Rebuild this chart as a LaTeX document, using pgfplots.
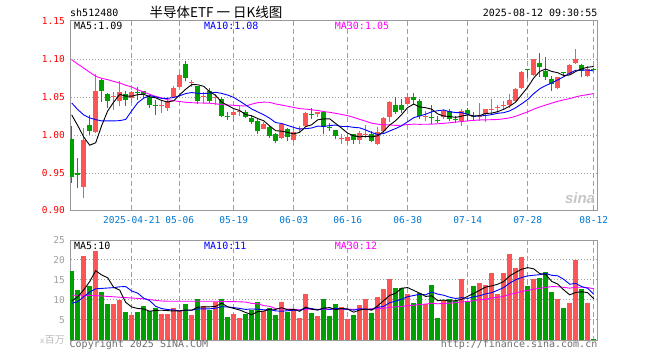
\documentclass[border=0pt]{standalone}
\usepackage{pgfplots}
\pgfplotsset{compat=1.18}
\usepackage{pgfplotstable}
\usepackage{fontspec}
\newfontfamily\monofont{DejaVu Sans Mono}
\newfontfamily\cjk{Noto Sans CJK SC}
\newfontfamily\sinafont{Liberation Sans}
\definecolor{cred}{RGB}{255,84,84}
\definecolor{cgreen}{RGB}{0,160,0}
\definecolor{cmag}{RGB}{255,0,255}
\definecolor{cblue}{RGB}{0,0,255}
\definecolor{ctickred}{RGB}{255,0,0}
\definecolor{cdate}{RGB}{0,120,210}
\definecolor{cframe}{RGB}{153,153,153}
\definecolor{cgridc}{RGB}{160,160,160}
\definecolor{cvgray}{RGB}{160,160,160}
\definecolor{ctext}{RGB}{110,110,110}

\pgfplotstableread{
k o h l c v u
0 0.9947 1.011 0.936 0.944 17.3 0
1 0.950 0.969 0.930 0.947 12.5 0
2 0.931 1.009 0.917 0.993 21 1
3 1.013 1.026 0.999 1.005 13.5 0
4 1.003 1.080 1.002 1.057 22.3 1
5 1.0715 1.0737 1.0425 1.057 12 0
6 1.054 1.055 1.035 1.044 9 0
7 1.0495 1.056 1.032 1.0505 9 1
8 1.0439 1.070 1.0373 1.0566 10.1 1
9 1.054 1.057 1.037 1.0452 7 0
10 1.0482 1.0579 1.0417 1.0566 6.25 1
11 1.0556 1.0627 1.046 1.0542 7 0
12 1.057 1.058 1.048 1.0535 8.5 0
13 1.0496 1.0526 1.035 1.0395 7.25 0
14 1.0395 1.045 1.0254 1.0382 8 0
15 1.037 1.044 1.0285 1.039 6.5 1
16 1.035 1.049 1.0307 1.0447 6.5 1
17 1.0496 1.0636 1.0482 1.0614 8 1
18 1.0627 1.0798 1.0614 1.079 7.5 1
19 1.0934 1.0974 1.0702 1.0746 9 0
20 1.0685 1.0724 1.0627 1.0695 6.25 1
21 1.0636 1.0645 1.0404 1.0439 10.25 0
22 1.0500 1.0561 1.0417 1.0510 8.5 1
23 1.0579 1.0614 1.0417 1.0439 7.5 0
24 1.0487 1.0535 1.0395 1.0496 9.5 1
25 1.0469 1.049 1.0228 1.025 10.25 0
26 1.0240 1.0298 1.0197 1.0230 5.75 0
27 1.0254 1.0316 1.0162 1.0294 6.5 1
28 1.0305 1.0373 1.0241 1.0316 5.5 1
29 1.0303 1.0329 1.0219 1.0228 6.4 0
30 1.0224 1.0254 1.0145 1.0171 7.5 0
31 1.018 1.0202 1.0013 1.0048 9.5 0
32 1.0079 1.0171 1.007 1.0145 7.2 1
33 1.0101 1.0114 0.9961 0.9978 7.9 0
34 1.0004 1.0026 0.9895 0.9917 6.25 0
35 0.9961 1.0145 0.9947 1.0136 9.5 1
36 1.007 1.0092 0.9917 0.9969 6.9 0
37 0.9925 1.0083 0.9908 1.0039 7.75 1
38 1.0070 1.0118 1.0040 1.0088 5.5 1
39 1.0114 1.0298 1.010 1.0289 11.5 1
40 1.0272 1.0346 1.0202 1.0262 6.75 0
41 1.0276 1.0303 1.0232 1.0294 6 1
42 1.0294 1.0303 1.0004 1.0101 10.25 0
43 1.0101 1.0158 1.0048 1.0092 6 0
44 1.0057 1.0066 0.9939 0.9983 9 0
45 0.9939 1.0004 0.9882 0.9949 8.25 1
46 0.9917 1.0004 0.9873 0.9969 5.25 1
47 1.0004 1.0013 0.9882 0.9925 6.25 0
48 0.9925 1.0048 0.9873 1.0026 8.75 1
49 1.0000 1.0127 0.9961 1.0013 10.25 1
50 1.0013 1.0048 0.9908 0.9917 6.75 0
51 0.9882 1.0101 0.9864 1.0039 10.75 1
52 1.0048 1.0232 1.0026 1.0224 12.75 1
53 1.0232 1.0443 1.0171 1.0434 15.25 1
54 1.039 1.05 1.0276 1.0303 13 0
55 1.0386 1.0465 1.0289 1.032 13 0
56 1.0408 1.0553 1.0399 1.05 11.5 1
57 1.05 1.0553 1.039 1.0452 9.25 0
58 1.0443 1.0465 1.0202 1.0246 11.75 0
59 1.0241 1.0311 1.018 1.0251 9 1
60 1.0237 1.0386 1.0145 1.0227 13.75 0
61 1.0198 1.0246 1.0158 1.0188 5.5 0
62 1.0237 1.0333 1.0202 1.0311 10 1
63 1.0311 1.0342 1.018 1.0211 10.25 0
64 1.0206 1.0246 1.0158 1.0197 9.75 0
65 1.018 1.0333 1.0114 1.0311 15.25 1
66 1.0325 1.0355 1.018 1.0268 9.4 0
67 1.0241 1.0298 1.018 1.0232 13.5 0
68 1.0237 1.0421 1.018 1.0247 14.25 1
69 1.0268 1.0342 1.0167 1.0333 13.75 1
70 1.0324 1.0474 1.0268 1.0334 16.75 1
71 1.0355 1.0386 1.0289 1.0365 11.5 1
72 1.0377 1.0443 1.0342 1.0387 16.75 1
73 1.0386 1.0531 1.0355 1.0452 21.5 1
74 1.0443 1.0618 1.043 1.0605 18 1
75 1.0618 1.0838 1.0605 1.0829 20.75 1
76 1.086 1.0868 1.075 1.0845 13.5 0
77 1.0785 1.10 1.0772 1.0991 15.25 1
78 1.0947 1.107 1.0763 1.089 15.5 0
79 1.0838 1.1026 1.0719 1.0763 17 0
80 1.0737 1.0772 1.0575 1.0671 12 0
81 1.061 1.076 1.0596 1.076 10.25 1
82 1.082 1.0825 1.0775 1.081 8 0
83 1.080 1.093 1.079 1.092 9.25 1
84 1.0944 1.1132 1.093 1.0996 20 1
85 1.0921 1.0934 1.0759 1.0842 12.75 0
86 1.0767 1.0908 1.076 1.0868 9.25 1
87 1.0868 1.0875 1.0855 1.0858 0.25 0
}\kd

% moving averages computed from the table (leading parts)
\newcommand\appendma[4]{%
  \pgfmathtruncatemacro\mastart{#3-1}%
  \foreach \i in {\mastart,...,87}{%
    \gdef\masum{0}%
    \pgfmathtruncatemacro\jlo{\i-#3+1}%
    \foreach \j in {\jlo,...,\i}{%
      \pgfplotstablegetelem{\j}{#2}\of#4%
      \pgfmathparse{\masum+\pgfplotsretval}%
      \xdef\masum{\pgfmathresult}%
    }%
    \pgfmathparse{\masum/#3}%
    \xdef#1{#1 (\i,\pgfmathresult)}%
  }%
}
\gdef\maPfive{(0,1.026) (1,1.012) (2,0.997) (3,0.986)}
\gdef\maPten{(0,1.0417) (1,1.033) (2,1.026) (3,1.022) (4,1.0197) (5,1.018) (6,1.018) (7,1.018) (8,1.0184)}
\gdef\maPthirty{(0,1.0987) (1,1.093) (2,1.0877) (3,1.082) (4,1.0768) (5,1.074) (6,1.0724) (7,1.070) (8,1.068) (9,1.065) (10,1.0627) (11,1.059) (12,1.0561) (13,1.053) (14,1.0504) (15,1.0482) (16,1.046) (17,1.0447) (18,1.0435) (19,1.0426) (20,1.042) (21,1.0417) (22,1.0415) (23,1.0413) (24,1.0405) (25,1.0395) (26,1.039) (27,1.0386) (28,1.038)}
\gdef\maVfive{(0,9.75) (1,10.8) (2,12.5) (3,14.6)}
\gdef\maVten{(0,9.2) (1,9.6) (2,10.8) (3,12) (4,12.8) (5,12.9) (6,13.0) (7,13.1) (8,13.3)}
\gdef\maVthirty{(0,11.2) (1,11.2) (2,11.2) (3,11.15) (4,11.1) (5,11.0) (6,10.9) (7,10.8) (8,10.7) (9,10.6) (10,10.5) (11,10.4) (12,10.3) (13,10.1) (14,9.9) (15,9.75) (16,9.7) (17,9.7) (18,9.7) (19,9.7) (20,9.7) (21,9.7) (22,9.7) (23,9.7) (24,9.7) (25,9.65) (26,9.6) (27,9.6) (28,9.55)}
\appendma{\maPfive}{c}{5}{\kd}
\appendma{\maPten}{c}{10}{\kd}
\appendma{\maPthirty}{c}{30}{\kd}
\appendma{\maVfive}{v}{5}{\kd}
\appendma{\maVten}{v}{10}{\kd}
\appendma{\maVthirty}{v}{30}{\kd}

\newcommand\plotma[2]{\edef\tempplot{\noexpand\addplot[#1] coordinates {#2};}\tempplot}

\newcommand\candle[1]{%
  \pgfplotstablegetelem{#1}{o}\of\kd\let\co\pgfplotsretval
  \pgfplotstablegetelem{#1}{h}\of\kd\let\ch\pgfplotsretval
  \pgfplotstablegetelem{#1}{l}\of\kd\let\cl\pgfplotsretval
  \pgfplotstablegetelem{#1}{c}\of\kd\let\cc\pgfplotsretval
  \pgfplotstablegetelem{#1}{u}\of\kd
  \ifnum\pgfplotsretval=1 \def\ccol{cred}\else\def\ccol{cgreen}\fi
  \edef\tempcandle{\noexpand\addplot[\ccol, line width=1pt, mark=none] coordinates {(#1,\cl) (#1,\ch)};%
    \noexpand\addplot[\ccol, line width=5pt, mark=none] coordinates {(#1,\co) (#1,\cc)};}%
  \tempcandle}
\newcommand\volbar[1]{%
  \pgfplotstablegetelem{#1}{v}\of\kd\let\cv\pgfplotsretval
  \pgfplotstablegetelem{#1}{u}\of\kd
  \ifnum\pgfplotsretval=1 \def\ccol{cred}\else\def\ccol{cgreen}\fi
  \edef\tempvol{\noexpand\addplot[\ccol, line width=5pt, mark=none] coordinates {(#1,0) (#1,\cv)};}%
  \tempvol}

\pgfplotsset{
  kaxis/.style={scale only axis, width=527.7pt, xmin=-0.28, xmax=87.67,
    axis line style={draw=cframe, line width=1pt},
    major tick length=0pt, minor tick num=0,
    xtick={10,18,27,37,46,56,66,76,87},
    clip=true},
}

\begin{document}
\begin{tikzpicture}
\path[use as bounding box, fill=white] (0,0) rectangle (660pt,360pt);

% ---------- grids: small filled rectangles (dashes and dots) ----------
\begin{scope}[x=1pt, y=1pt]
\foreach \gx in {131,179,233,293,347,407,467,527,593}{
  \foreach \s in {0,8,...,184}{\fill[cgridc] (\gx,339.3-\s) rectangle (\gx+1,{max(339.3-\s-5,149.5)});}
  \foreach \s in {0,8,...,96}{\fill[cgridc] (\gx,120-\s) rectangle (\gx+1,{max(120-\s-5,20)});}
}
\foreach \gy in {186,224,262,300,40,60,80,100}{
  \foreach \s in {71,74,...,596}{\fill[cgridc] (\s,\gy) rectangle (\s+1,\gy+1);}
}
\end{scope}

% ---------- price panel ----------
\begin{axis}[kaxis, at={(70pt,149.5pt)}, anchor=south west, height=189.8pt,
  ymin=0.9, ymax=1.15,
  ytick={0.9,0.95,1,1.05,1.1,1.15},
  yticklabels={0.90,0.95,1.00,1.05,1.10,1.15},
  yticklabel style={font=\fontsize{9.5}{10}\monofont, text=ctickred, inner sep=0pt, xshift=-5pt, anchor=east},
  xticklabels={2025-04-21,05-06,05-19,06-03,06-16,06-30,07-14,07-28,08-12},
  xticklabel style={font=\fontsize{9.5}{10}\monofont, text=cdate, inner sep=0pt, yshift=-6pt, anchor=north}]
\pgfplotsinvokeforeach{0,...,87}{\candle{#1}}
\plotma{cmag, line width=0.9pt, mark=none}{\maPthirty}
\plotma{cblue, line width=0.9pt, mark=none}{\maPten}
\plotma{black, line width=0.9pt, mark=none}{\maPfive}
\end{axis}

% ---------- volume panel ----------
\begin{axis}[kaxis, at={(70pt,20pt)}, anchor=south west, height=100pt,
  ymin=0, ymax=25,
  ytick={5,10,15,20,25},
  yticklabels={5,10,15,20,25},
  yticklabel style={font=\fontsize{9.5}{10}\monofont, text=cvgray, inner sep=0pt, xshift=-5pt, anchor=east},
  xticklabels={,,,,,,,,}]
\pgfplotsinvokeforeach{0,...,87}{\volbar{#1}}
\plotma{cmag, line width=0.9pt, mark=none}{\maVthirty}
\plotma{cblue, line width=0.9pt, mark=none}{\maVten}
\plotma{black, line width=0.9pt, mark=none}{\maVfive}
\end{axis}

% ---------- texts ----------
\node[anchor=base west, inner sep=0pt, font=\fontsize{10}{12}\monofont] at (70pt,343.5pt) {sh512480};
\node[anchor=base, inner sep=0pt, font=\fontsize{13.5}{15}\cjk] at (216pt,343pt) {半导体ETF 一 日K线图};
\node[anchor=base east, inner sep=0pt, font=\fontsize{10}{12}\monofont] at (597.5pt,343.5pt) {2025-08-12 09:30:55};
\node[anchor=base west, inner sep=0pt, font=\fontsize{10}{12}\monofont] at (74pt,330.7pt) {MA5:1.09};
\node[anchor=base west, inner sep=0pt, font=\fontsize{10}{12}\monofont, text=cblue] at (204pt,330.7pt) {MA10:1.08};
\node[anchor=base west, inner sep=0pt, font=\fontsize{10}{12}\monofont, text=cmag] at (334.7pt,330.7pt) {MA30:1.05};
\node[anchor=base west, inner sep=0pt, font=\fontsize{10}{12}\monofont] at (74pt,110.5pt) {MA5:10};
\node[anchor=base west, inner sep=0pt, font=\fontsize{10}{12}\monofont, text=cblue] at (204pt,110.5pt) {MA10:11};
\node[anchor=base west, inner sep=0pt, font=\fontsize{10}{12}\monofont, text=cmag] at (334.7pt,110.5pt) {MA30:12};
\node[anchor=base west, inner sep=0pt, font=\fontsize{10}{12}\monofont, text=ctext] at (69.5pt,12.5pt) {Copyright 2025 SINA.COM};
\node[anchor=base east, inner sep=0pt, font=\fontsize{10}{12}\monofont, text=ctext] at (597.5pt,12.5pt) {http://finance.sina.com.cn};
\node[anchor=base east, inner sep=0pt, text=cvgray!70] at (65pt,17pt) {\fontsize{8}{9}\monofont x\fontsize{10}{12}\cjk 百万};
\node[anchor=center, inner sep=0pt, text=black!22, font=\fontsize{15}{16}\sinafont\bfseries\itshape] at (580pt,162pt) {sina};
\end{tikzpicture}
\end{document}
